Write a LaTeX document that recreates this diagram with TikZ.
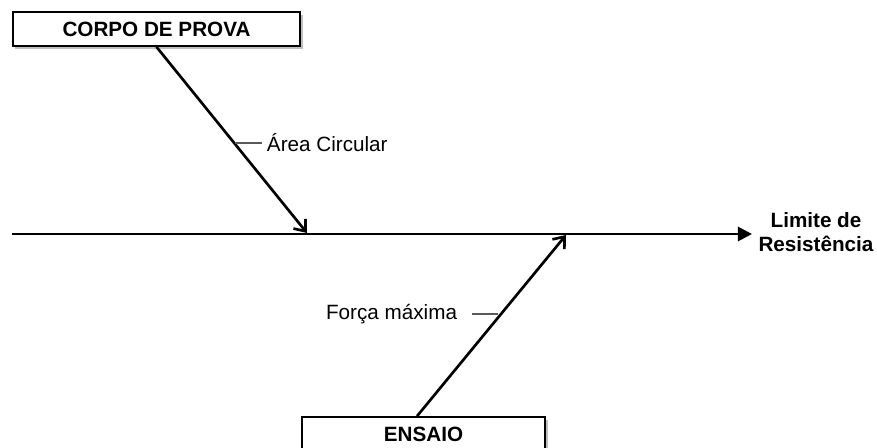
\documentclass[tikz,border=0pt]{standalone}
\usepackage{fontspec}
\setmainfont{Liberation Sans}
\usetikzlibrary{positioning}
\usetikzlibrary{arrows.meta,shadows}

\tikzset{
	causa/.style={draw, line width=1.3pt, fill=white, font=\fontsize{14.7}{17.5}\selectfont\bfseries, inner sep=0pt,
		drop shadow={shadow xshift=1.8pt, shadow yshift=-1.8pt, opacity=0.5}},
	espinha/.style={line width=1.9pt, -{Straight Barb[length=7pt,width=11pt,line width=1.9pt]}},
	guia/.style={gray!70!black, line width=0.8pt}
}

\begin{document}
\begin{tikzpicture}[x=0.025cm, y=-0.025cm, font=\fontsize{14.7}{17.5}\selectfont]
		%\draw[gray,step=20] (0,0) grid (877,448);
		\useasboundingbox (0,0) rectangle (877,448);
		\node[causa, minimum width=7.175cm, minimum height=0.85cm] (corpo) at (156.5,29) {CORPO DE PROVA};
		\node[causa, minimum width=6.075cm, minimum height=0.85cm] (ensaio) at (423.5,434) {ENSAIO};
		\node[font=\fontsize{14.7}{17.5}\selectfont\bfseries, align=center] (efeito) at (816,232) {Limite de\\Resistência};
		\coordinate (inicio) at (12,234);
		\coordinate (fim) at (752,234);
		\coordinate (pa) at (307,233);
		\coordinate (pb) at (566,235);
		\draw[line width=2pt, -{Triangle[length=10pt,width=10pt]}] (inicio) -- (fim);
		\draw[espinha] (corpo.south) -- (pa);
		\draw[espinha] ([xshift=-0.16cm]ensaio.north) -- (pb);
		\node[anchor=west] (area) at (262,143) {Área Circular};
		\coordinate (ga) at (235,143);
		\draw[guia] (ga) -- (area.west);
		\node[anchor=east] (forca) at (462,314) {Força máxima};
		\coordinate (gf) at (498,314);
		\draw[guia] (forca.east) ++(0.25cm,0) -- (gf);
	\end{tikzpicture}
\end{document}
